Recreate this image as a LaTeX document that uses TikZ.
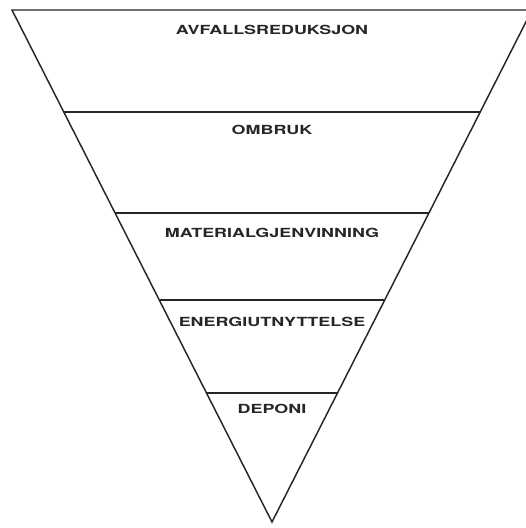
\documentclass[tikz,border=0pt]{standalone}
\usepackage{fontspec}
\newfontfamily\tierfont[FakeStretch=1.43]{TeX Gyre Heros}
\usetikzlibrary{calc}
\begin{document}
\begin{tikzpicture}[x=0.75pt,y=-0.75pt,
  edge/.style={draw=black!85,line width=1.1pt,line join=miter},
  tier/.style={font=\tierfont\bfseries\fontsize{9.4pt}{11pt}\selectfont,text=black!85,inner sep=0pt,anchor=center}]
  \useasboundingbox (0,0) rectangle (525,528);
  % corners of the inverted triangle
  \coordinate (TL) at (12,10);
  \coordinate (TR) at (532,10);
  \coordinate (A)  at (272,522);
  % dividing levels along the two sides
  \foreach \t/\n in {0.1992/a,0.3965/b,0.5664/c,0.748/d}{
    \coordinate (L\n) at ($(TL)!\t!(A)$);
    \coordinate (R\n) at ($(TR)!\t!(A)$);
  }
  \draw[edge] (TL) -- (TR) -- (A) -- cycle;
  \foreach \n in {a,b,c,d}{ \draw[edge] (L\n) -- (R\n); }
  % tier labels
  \node[tier] (t1) at (272,29.5) {AVFALLSREDUKSJON};
  \node[tier] (t2) at (272,130) {OMBRUK};
  \node[tier] (t3) at (272,233) {MATERIALGJENVINNING};
  \node[tier] (t4) at (272,322) {ENERGIUTNYTTELSE};
  \node[tier] (t5) at (272,409) {DEPONI};
\end{tikzpicture}
\end{document}
